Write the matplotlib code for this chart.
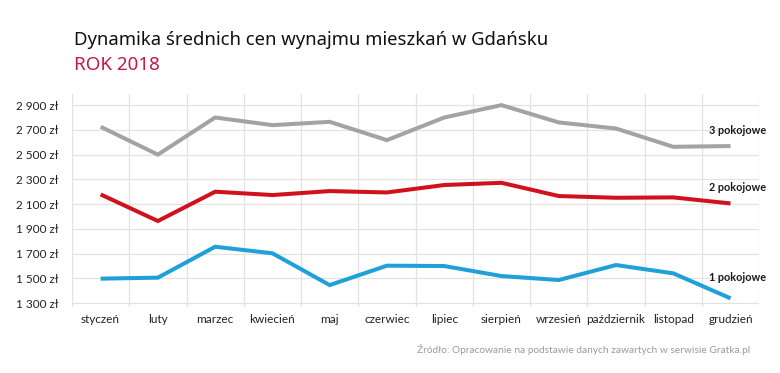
import matplotlib.pyplot as plt

months = ["styczeń", "luty", "marzec", "kwiecień", "maj", "czerwiec",
          "lipiec", "sierpień", "wrzesień", "październik", "listopad", "grudzień"]

rooms_3 = [2725, 2500, 2800, 2738, 2765, 2617, 2800, 2900, 2760, 2711, 2563, 2569]
rooms_2 = [2178, 1963, 2200, 2173, 2205, 2194, 2254, 2272, 2165, 2151, 2154, 2105]
rooms_1 = [1497, 1505, 1755, 1702, 1445, 1602, 1599, 1518, 1486, 1607, 1540, 1338]

yticks = [1300, 1500, 1700, 1900, 2100, 2300, 2500, 2700, 2900]
ytick_labels = ["1 300 zł", "1 500 zł", "1 700 zł", "1 900 zł", "2 100 zł",
                "2 300 zł", "2 500 zł", "2 700 zł", "2 900 zł"]

# colour, label, how far above the last point the label sits
series = [
    (rooms_3, "#a3a3a3", "3 pokojowe", 123),
    (rooms_2, "#d0121f", "2 pokojowe", 127),
    (rooms_1, "#1fa0d8", "1 pokojowe", 170),
]

plt.rcParams["font.family"] = ["Lato", "DejaVu Sans"]

fig = plt.figure(figsize=(7.8, 3.73), dpi=100)
ax = fig.add_axes([0.0923, 0.177, 0.881, 0.571])

x = list(range(len(months)))

for values, color, name, off in series:
    ax.plot(x, values, color=color, lw=2.9, solid_capstyle="butt",
            solid_joinstyle="miter", zorder=3)
    ax.text(10.62, values[-1] + off, name, fontsize=7.8, fontweight="bold",
            color="#1a1a1a", va="center", ha="left")

ax.set_xlim(-0.5, 11.5)
ax.set_ylim(1268, 2990)

ax.set_yticks(yticks)
ax.set_yticklabels(ytick_labels)
ax.set_xticks(x)
ax.set_xticklabels(months)

# vertical grid between the months
for b in range(13):
    ax.axvline(b - 0.5, color="#e2e2e2", lw=0.9, zorder=1)
for t in yticks:
    ax.axhline(t, color="#e2e2e2", lw=0.9, zorder=1)

for s in ax.spines.values():
    s.set_visible(False)
ax.tick_params(axis="both", length=0, labelsize=8.5, colors="#222222")
ax.tick_params(axis="y", pad=10)
ax.tick_params(axis="x", pad=5)

fig.text(0.095, 0.893, "Dynamika średnich cen wynajmu mieszkań w Gdańsku",
         fontsize=13.3, color="#111111", family=["Noto Sans", "DejaVu Sans"],
         va="center")
fig.text(0.095, 0.825, "ROK 2018", fontsize=13.5, color="#c8174a",
         family=["Noto Sans", "DejaVu Sans"], va="center")

fig.text(0.962, 0.062,
         "Źródło: Opracowanie na podstawie danych zawartych w serwisie Gratka.pl",
         fontsize=7.3, color="#9a9a9a", ha="right", va="center")

fig.savefig("out.png", dpi=100, facecolor="white")
